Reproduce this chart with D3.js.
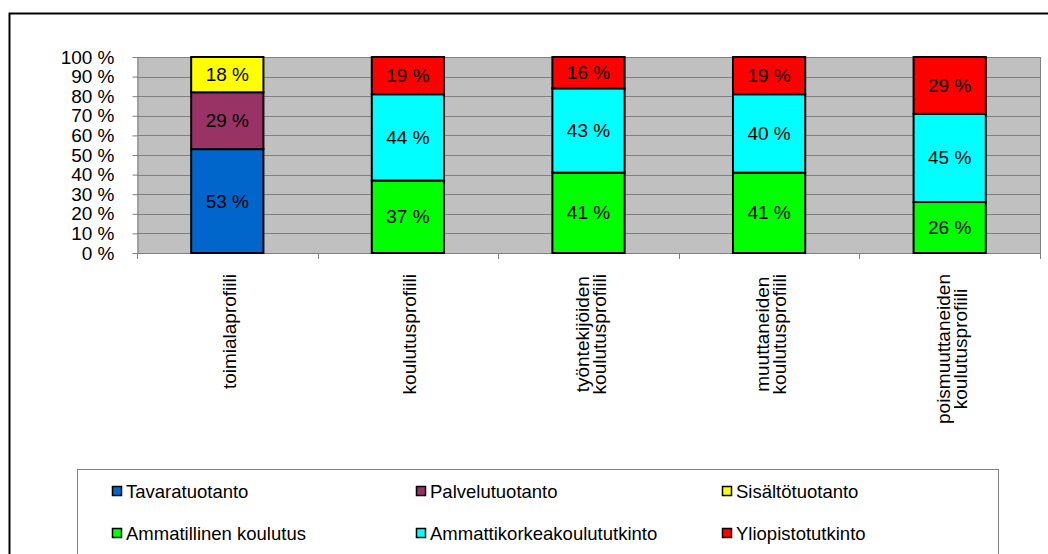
<!DOCTYPE html>
<html>
<head>
<meta charset="utf-8">
<script src="https://cdn.jsdelivr.net/npm/d3@7"></script>
<style>
  html, body { margin: 0; padding: 0; background: #fff; }
  svg { display: block; font-family: "Liberation Sans", Arial, sans-serif; }
</style>
</head>
<body>
<svg id="chart" width="1048" height="554"></svg>
<script>
// kategoriat (rivitetty nimike)
const categories = [
  ["toimialaprofiili"],
  ["koulutusprofiili"],
  ["työntekijöiden", "koulutusprofiili"],
  ["muuttaneiden", "koulutusprofiili"],
  ["poismuuttaneiden", "koulutusprofiili"]
];

const seriesNames = [
  "Tavaratuotanto", "Palvelutuotanto", "Sisältötuotanto",
  "Ammatillinen koulutus", "Ammattikorkeakoulututkinto", "Yliopistotutkinto"
];
const seriesColors = ["#0066CC", "#993366", "#FFFF00", "#00FF00", "#00FFFF", "#FF0000"];

// arvot prosentteina, yksi taulukko per sarja
const tavaratuotanto   = [53, 0, 0, 0, 0];
const palvelutuotanto  = [29, 0, 0, 0, 0];
const sisaltotuotanto  = [18, 0, 0, 0, 0];
const ammatillinen     = [0, 37, 41, 41, 26];
const amk              = [0, 44, 43, 40, 45];
const yliopisto        = [0, 19, 16, 19, 29];
const seriesValues = [tavaratuotanto, palvelutuotanto, sisaltotuotanto, ammatillinen, amk, yliopisto];

const yTicks = [0, 10, 20, 30, 40, 50, 60, 70, 80, 90, 100];

const svg = d3.select("#chart");
const plot = { left: 137, right: 1040, top: 57, bottom: 253 };
const fontSize = 19;

// ulkokehys
svg.append("path")
  .attr("d", "M9.5,554 V13.5 H1048")
  .attr("fill", "none")
  .attr("stroke", "#000")
  .attr("stroke-width", 2);

const rows = categories.map((c, i) => {
  const r = { idx: i };
  seriesNames.forEach((s, j) => { r[s] = seriesValues[j][i]; });
  return r;
});

const x = d3.scaleBand()
  .domain(d3.range(categories.length))
  .range([plot.left, plot.right])
  .paddingInner(0.6)
  .paddingOuter(0.3);

const y = d3.scaleLinear().domain([0, 100]).range([plot.bottom, plot.top]);

// piirtoalue
svg.append("rect")
  .attr("x", plot.left).attr("y", plot.top)
  .attr("width", plot.right - plot.left).attr("height", plot.bottom - plot.top)
  .attr("fill", "#C0C0C0");

// vaakaviivat
svg.append("g")
  .selectAll("line")
  .data(yTicks.slice(1))
  .join("line")
  .attr("x1", plot.left).attr("x2", plot.right)
  .attr("y1", d => Math.round(y(d)) + 0.5).attr("y2", d => Math.round(y(d)) + 0.5)
  .attr("stroke", "#808080");

// oikea reuna
svg.append("line")
  .attr("x1", plot.right + 0.5).attr("x2", plot.right + 0.5)
  .attr("y1", plot.top).attr("y2", plot.bottom)
  .attr("stroke", "#808080");

// y-akseli
const yAxis = svg.append("g")
  .attr("transform", `translate(${plot.left + 0.5},0)`)
  .call(d3.axisLeft(y).tickValues(yTicks).tickFormat(d => d + " %").tickSize(5).tickPadding(18).tickSizeOuter(0));
yAxis.select(".domain").attr("stroke", "#808080");
yAxis.selectAll(".tick line").attr("stroke", "#808080");
yAxis.selectAll(".tick text")
  .attr("fill", "#000")
  .style("font-size", fontSize + "px")
  .style("font-family", "Liberation Sans, Arial, sans-serif");

// x-akseli: viiva ja väliviivat kaistojen rajoilla
const boundaries = d3.range(categories.length + 1).map(i => plot.left + i * x.step());
svg.append("line")
  .attr("x1", plot.left).attr("x2", plot.right)
  .attr("y1", plot.bottom + 0.5).attr("y2", plot.bottom + 0.5)
  .attr("stroke", "#808080");
svg.append("g")
  .selectAll("line")
  .data(boundaries)
  .join("line")
  .attr("x1", d => Math.round(d) + 0.5).attr("x2", d => Math.round(d) + 0.5)
  .attr("y1", plot.bottom).attr("y2", plot.bottom + 6)
  .attr("stroke", "#808080");

// pinotut pylväät
const stack = d3.stack().keys(seriesNames).order(d3.stackOrderNone)(rows);
const layers = svg.append("g")
  .selectAll("g")
  .data(stack)
  .join("g")
  .attr("fill", (d, i) => seriesColors[i]);

layers.selectAll("rect")
  .data(d => d.filter(p => p[1] - p[0] > 0))
  .join("rect")
  .attr("x", d => x(d.data.idx))
  .attr("y", d => y(d[1]))
  .attr("width", x.bandwidth())
  .attr("height", d => y(d[0]) - y(d[1]))
  .attr("stroke", "#000")
  .attr("stroke-width", 2);

// arvotekstit
layers.selectAll("text")
  .data(d => d.filter(p => p[1] - p[0] > 0))
  .join("text")
  .attr("x", d => x(d.data.idx) + x.bandwidth() / 2)
  .attr("y", d => (y(d[0]) + y(d[1])) / 2)
  .attr("text-anchor", "middle")
  .attr("dominant-baseline", "central")
  .attr("fill", "#000")
  .style("font-size", fontSize + "px")
  .text(d => (d[1] - d[0]) + " %");

// kategorianimikkeet pystyyn
const labelTop = 274;
const lineH = 17;
categories.forEach((lines, i) => {
  const cx = x(i) + x.bandwidth() / 2 + 2;
  const g = svg.append("g");
  const texts = lines.map((t, k) => g.append("text")
    .attr("x", 0)
    .attr("y", (k - (lines.length - 1) / 2) * lineH)
    .attr("text-anchor", "middle")
    .attr("dominant-baseline", "central")
    .attr("fill", "#000")
    .style("font-size", fontSize + "px")
    .text(t));
  const maxLen = d3.max(texts, t => t.node().getComputedTextLength());
  g.attr("transform", `translate(${cx},${labelTop + maxLen / 2}) rotate(-90)`);
});

// selite
svg.append("rect")
  .attr("x", 77.5).attr("y", 469.5)
  .attr("width", 921).attr("height", 120)
  .attr("fill", "#fff")
  .attr("stroke", "#808080");

const legendCols = [112, 416, 722];
const legendRows = [491, 533];
const legend = svg.append("g")
  .selectAll("g")
  .data(seriesNames)
  .join("g")
  .attr("transform", (d, i) => `translate(${legendCols[i % 3]},${legendRows[Math.floor(i / 3)]})`);

legend.append("rect")
  .attr("x", 0.5).attr("y", -4.5)
  .attr("width", 9).attr("height", 9)
  .attr("fill", (d, i) => seriesColors[i])
  .attr("stroke", "#000")
  .attr("stroke-width", 1.5);

legend.append("text")
  .attr("x", 14)
  .attr("y", 0)
  .attr("dominant-baseline", "central")
  .attr("fill", "#000")
  .style("font-size", "18.5px")
  .text(d => d);
</script>
</body>
</html>
